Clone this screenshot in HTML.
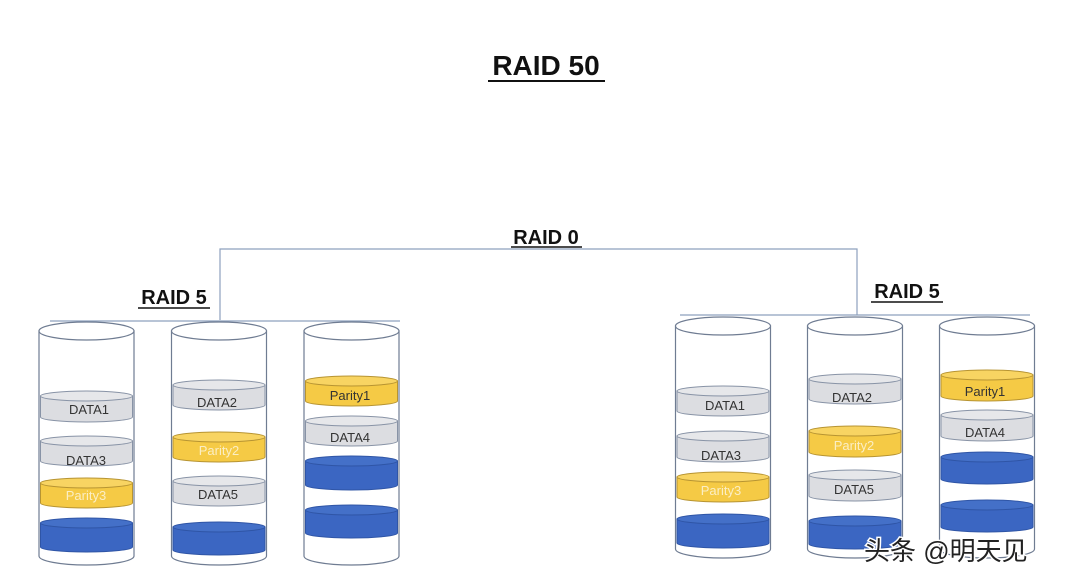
<!DOCTYPE html>
<html><head><meta charset="utf-8"><style>
html,body{margin:0;padding:0;background:#fff;}
svg{display:block;}
text{font-family:"Liberation Sans","Noto Sans CJK SC",sans-serif;}
.cyl{fill:#fff;stroke:#6f7c92;stroke-width:1.2;}
.g path{fill:#dcdde1;stroke:#8893a6;stroke-width:1;} .g ellipse{fill:#e6e7ea;stroke:#8893a6;stroke-width:1;}
.y path{fill:#f5ca45;stroke:#b79432;stroke-width:1;} .y ellipse{fill:#f8d462;stroke:#b79432;stroke-width:1;}
.b path{fill:#3b66c2;stroke:#2f55a6;stroke-width:1;} .b ellipse{fill:#4470c8;stroke:#2f55a6;stroke-width:1;}
.lbl{font-size:13px;fill:#333;text-anchor:middle;}
.wl{font-size:13px;fill:#fbeec4;text-anchor:middle;}
</style></head><body>
<svg width="1080" height="584" viewBox="0 0 1080 584" xmlns="http://www.w3.org/2000/svg">
<rect width="1080" height="584" fill="#fff"/>
<text x="546" y="75" font-size="28" font-weight="bold" text-anchor="middle" fill="#111">RAID 50</text>
<line x1="488" y1="81" x2="605" y2="81" stroke="#111" stroke-width="2"/>
<text x="546" y="244" font-size="20" font-weight="bold" text-anchor="middle" fill="#111">RAID 0</text>
<line x1="511" y1="247" x2="582" y2="247" stroke="#111" stroke-width="1.5"/>
<text x="174" y="304" font-size="20" font-weight="bold" text-anchor="middle" fill="#111">RAID 5</text>
<line x1="138" y1="308" x2="210" y2="308" stroke="#111" stroke-width="1.5"/>
<text x="907" y="298" font-size="20" font-weight="bold" text-anchor="middle" fill="#111">RAID 5</text>
<line x1="871" y1="302" x2="943" y2="302" stroke="#111" stroke-width="1.5"/>
<g stroke="#8ea1bd" stroke-width="1.2" fill="none">
<polyline points="220,320 220,249 857,249 857,315"/>
<line x1="50" y1="321" x2="400" y2="321"/>
<line x1="680" y1="315" x2="1030" y2="315"/>
</g>
<path class="cyl" d="M39 331 V556 A47.5 9 0 0 0 134 556 V331 Z"/><ellipse class="cyl" cx="86.5" cy="331" rx="47.5" ry="9"/>
<path class="cyl" d="M171.5 331 V556 A47.5 9 0 0 0 266.5 556 V331 Z"/><ellipse class="cyl" cx="219" cy="331" rx="47.5" ry="9"/>
<path class="cyl" d="M304 331 V556 A47.5 9 0 0 0 399 556 V331 Z"/><ellipse class="cyl" cx="351.5" cy="331" rx="47.5" ry="9"/>
<path class="cyl" d="M675.5 326 V549 A47.5 9 0 0 0 770.5 549 V326 Z"/><ellipse class="cyl" cx="723" cy="326" rx="47.5" ry="9"/>
<path class="cyl" d="M807.5 326 V549 A47.5 9 0 0 0 902.5 549 V326 Z"/><ellipse class="cyl" cx="855" cy="326" rx="47.5" ry="9"/>
<path class="cyl" d="M939.5 326 V549 A47.5 9 0 0 0 1034.5 549 V326 Z"/><ellipse class="cyl" cx="987" cy="326" rx="47.5" ry="9"/>

<g class="g"><path d="M40.5 396 V417 A46 5 0 0 0 132.5 417 V396 Z"/><ellipse cx="86.5" cy="396" rx="46" ry="5"/></g><text class="lbl" x="89" y="414">DATA1</text>
<g class="g"><path d="M40.5 441 V461 A46 5 0 0 0 132.5 461 V441 Z"/><ellipse cx="86.5" cy="441" rx="46" ry="5"/></g><text class="lbl" x="86" y="465">DATA3</text>
<g class="y"><path d="M40.5 483 V503 A46 5 0 0 0 132.5 503 V483 Z"/><ellipse cx="86.5" cy="483" rx="46" ry="5"/></g><text class="wl" x="86" y="500">Parity3</text>
<g class="b"><path d="M40.5 523 V547 A46 5 0 0 0 132.5 547 V523 Z"/><ellipse cx="86.5" cy="523" rx="46" ry="5"/></g>
<g class="g"><path d="M173 385 V405 A46 5 0 0 0 265 405 V385 Z"/><ellipse cx="219" cy="385" rx="46" ry="5"/></g><text class="lbl" x="217" y="407">DATA2</text>
<g class="y"><path d="M173 437 V457 A46 5 0 0 0 265 457 V437 Z"/><ellipse cx="219" cy="437" rx="46" ry="5"/></g><text class="wl" x="219" y="455">Parity2</text>
<g class="g"><path d="M173 481 V501 A46 5 0 0 0 265 501 V481 Z"/><ellipse cx="219" cy="481" rx="46" ry="5"/></g><text class="lbl" x="218" y="499">DATA5</text>
<g class="b"><path d="M173 527 V550 A46 5 0 0 0 265 550 V527 Z"/><ellipse cx="219" cy="527" rx="46" ry="5"/></g>
<g class="y"><path d="M305.5 381 V401 A46 5 0 0 0 397.5 401 V381 Z"/><ellipse cx="351.5" cy="381" rx="46" ry="5"/></g><text class="lbl" x="350" y="400">Parity1</text>
<g class="g"><path d="M305.5 421 V441 A46 5 0 0 0 397.5 441 V421 Z"/><ellipse cx="351.5" cy="421" rx="46" ry="5"/></g><text class="lbl" x="350" y="442">DATA4</text>
<g class="b"><path d="M305.5 461 V485 A46 5 0 0 0 397.5 485 V461 Z"/><ellipse cx="351.5" cy="461" rx="46" ry="5"/></g>
<g class="b"><path d="M305.5 510 V533 A46 5 0 0 0 397.5 533 V510 Z"/><ellipse cx="351.5" cy="510" rx="46" ry="5"/></g>

<g class="g"><path d="M677 391 V411 A46 5 0 0 0 769 411 V391 Z"/><ellipse cx="723" cy="391" rx="46" ry="5"/></g><text class="lbl" x="725" y="410">DATA1</text>
<g class="g"><path d="M677 436 V457 A46 5 0 0 0 769 457 V436 Z"/><ellipse cx="723" cy="436" rx="46" ry="5"/></g><text class="lbl" x="721" y="460">DATA3</text>
<g class="y"><path d="M677 477 V497 A46 5 0 0 0 769 497 V477 Z"/><ellipse cx="723" cy="477" rx="46" ry="5"/></g><text class="wl" x="721" y="495">Parity3</text>
<g class="b"><path d="M677 519 V543 A46 5 0 0 0 769 543 V519 Z"/><ellipse cx="723" cy="519" rx="46" ry="5"/></g>
<g class="g"><path d="M809 379 V399 A46 5 0 0 0 901 399 V379 Z"/><ellipse cx="855" cy="379" rx="46" ry="5"/></g><text class="lbl" x="852" y="402">DATA2</text>
<g class="y"><path d="M809 431 V452 A46 5 0 0 0 901 452 V431 Z"/><ellipse cx="855" cy="431" rx="46" ry="5"/></g><text class="wl" x="854" y="450">Parity2</text>
<g class="g"><path d="M809 475 V496 A46 5 0 0 0 901 496 V475 Z"/><ellipse cx="855" cy="475" rx="46" ry="5"/></g><text class="lbl" x="854" y="494">DATA5</text>
<g class="b"><path d="M809 521 V544 A46 5 0 0 0 901 544 V521 Z"/><ellipse cx="855" cy="521" rx="46" ry="5"/></g>
<g class="y"><path d="M941 375 V396 A46 5 0 0 0 1033 396 V375 Z"/><ellipse cx="987" cy="375" rx="46" ry="5"/></g><text class="lbl" x="985" y="396">Parity1</text>
<g class="g"><path d="M941 415 V436 A46 5 0 0 0 1033 436 V415 Z"/><ellipse cx="987" cy="415" rx="46" ry="5"/></g><text class="lbl" x="985" y="437">DATA4</text>
<g class="b"><path d="M941 457 V479 A46 5 0 0 0 1033 479 V457 Z"/><ellipse cx="987" cy="457" rx="46" ry="5"/></g>
<g class="b"><path d="M941 505 V527 A46 5 0 0 0 1033 527 V505 Z"/><ellipse cx="987" cy="505" rx="46" ry="5"/></g>

<text x="864" y="560" font-size="26" fill="#222" stroke="#fff" stroke-width="3" paint-order="stroke" style="font-family:'Liberation Sans','Noto Sans CJK SC',sans-serif;">头条 @明天见</text>
</svg>
</body></html>
